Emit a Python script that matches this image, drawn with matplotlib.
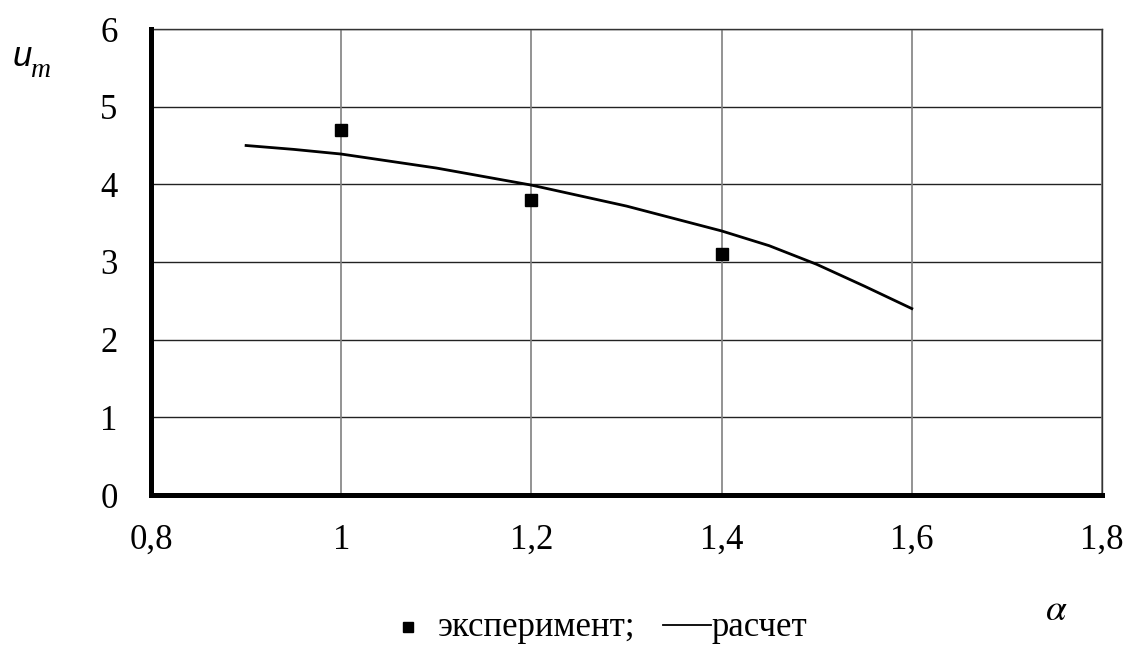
import numpy as np
import matplotlib
matplotlib.use("Agg")
import matplotlib.pyplot as plt
from matplotlib.lines import Line2D

# experiment points
alpha_exp = [1.0, 1.2, 1.4]
um_exp = [4.7, 3.8, 3.1]

# calculated curve
alpha_calc = [0.9, 0.95, 1.0, 1.1, 1.2, 1.3, 1.4, 1.45, 1.5, 1.55, 1.6]
um_calc = [4.50, 4.45, 4.39, 4.21, 3.99, 3.72, 3.40, 3.21, 2.97, 2.69, 2.40]

x_ticks = [0.8, 1.0, 1.2, 1.4, 1.6, 1.8]
x_labels = ["0,8", "1", "1,2", "1,4", "1,6", "1,8"]
y_ticks = [0, 1, 2, 3, 4, 5, 6]

plt.rcParams["font.family"] = ["Liberation Serif", "DejaVu Serif"]
plt.rcParams["mathtext.fontset"] = "stix"

fig = plt.figure(figsize=(11.29, 6.46), dpi=100)
ax = fig.add_axes([151 / 1129, 1 - 495 / 646, (1102 - 151) / 1129, (495 - 29) / 646])

ax.set_xlim(0.8, 1.8)
ax.set_ylim(0, 6)
ax.set_xticks(x_ticks)
ax.set_xticklabels(x_labels)
ax.set_yticks(y_ticks)
ax.tick_params(axis="both", length=0, labelsize=25)
ax.tick_params(axis="x", pad=21)
ax.tick_params(axis="y", pad=24)

# grid: horizontal dark, vertical grey
for yv in y_ticks[1:]:
    ax.axhline(yv, color="#222222", lw=1.0, zorder=1)
for xv in x_ticks[1:]:
    ax.axvline(xv, color="#808080", lw=1.2, zorder=1)

for side in ["left", "bottom"]:
    ax.spines[side].set_linewidth(3.6)
    ax.spines[side].set_color("black")
    ax.spines[side].set_zorder(5)
for side in ["top", "right"]:
    ax.spines[side].set_linewidth(1.0)
    ax.spines[side].set_color("#333333")

ax.plot(alpha_calc, um_calc, color="black", lw=2.0, zorder=3,
        solid_joinstyle="round")
ax.plot(alpha_exp, um_exp, "s", color="black", ms=8, zorder=4)

# axis labels
fig.text(13 / 1129, 1 - 66 / 646, "u", fontsize=25, style="italic",
         family="Liberation Sans", va="baseline")
fig.text(31 / 1129, 1 - 77 / 646, "m", fontsize=20, style="italic",
         family="Liberation Serif", va="baseline")
fig.text(1056 / 1129, 1 - 611 / 646, r"$\alpha$", fontsize=27,
         ha="center", va="center")

# legend at the bottom
fig.lines.append(Line2D([408 / 1129], [1 - 627 / 646], marker="s", ms=7.5,
                        color="black", transform=fig.transFigure))
fig.text(438 / 1129, 1 - 627 / 646, "эксперимент;", fontsize=25,
         va="center")
fig.lines.append(Line2D([663 / 1129, 711 / 1129], [1 - 625 / 646, 1 - 625 / 646],
                        color="black", lw=1.3, transform=fig.transFigure))
fig.text(712 / 1129, 1 - 627 / 646, "расчет", fontsize=25, va="center")

fig.savefig("out.png", dpi=100)
